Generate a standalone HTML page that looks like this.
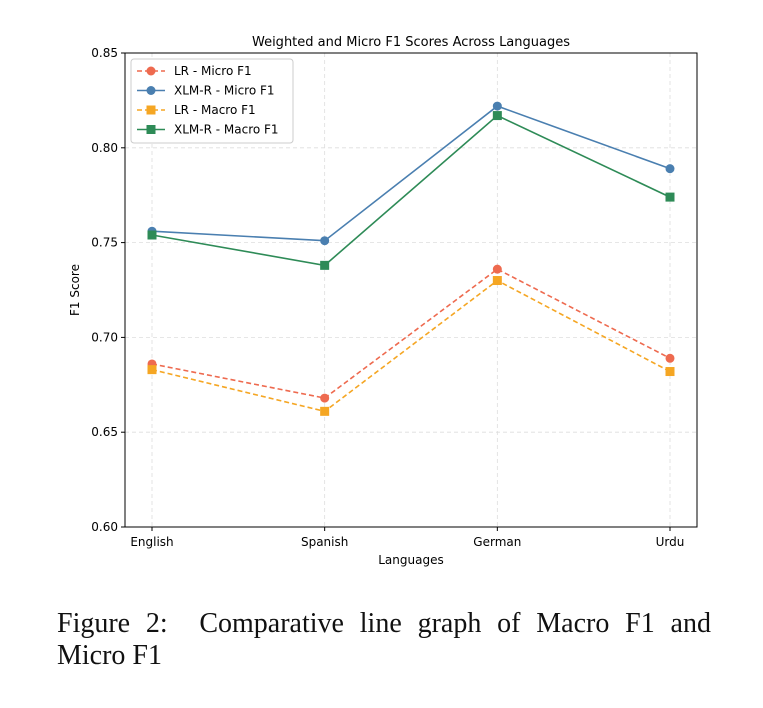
<!DOCTYPE html>
<html><head><meta charset="utf-8"><style>
body{margin:0;background:#fff;width:763px;height:708px;overflow:hidden;position:relative}
svg text{font-family:"DejaVu Sans","Liberation Sans",sans-serif}
.cap{position:absolute;left:57px;top:608px;width:654px;font-family:"Liberation Serif",serif;font-size:28px;line-height:32px;color:#111}
.l1{text-align:justify;text-align-last:justify}
</style></head><body>
<svg id="chart" width="763" height="600" style="position:absolute;left:0;top:0"></svg>
<div class="cap"><div class="l1">Figure 2:&nbsp; Comparative line graph of Macro F1 and</div><div>Micro F1</div></div>
<script>
const categories=["English","Spanish","German","Urdu"];
const lrMicro=[0.686,0.668,0.736,0.689];
const xlmMicro=[0.756,0.751,0.822,0.789];
const lrMacro=[0.683,0.661,0.730,0.682];
const xlmMacro=[0.754,0.738,0.817,0.774];
const yTicks=[0.60,0.65,0.70,0.75,0.80,0.85];
const NS="http://www.w3.org/2000/svg";
const svg=document.getElementById('chart');
const L=125,R=697,T=53,B=527;
const x=i=>152+i*(670-152)/(categories.length-1);
const y=v=>B-(v-0.60)/(0.25)*(B-T);
function el(t,a,p){const e=document.createElementNS(NS,t);for(const k in a)e.setAttribute(k,a[k]);(p||svg).appendChild(e);return e;}
yTicks.forEach(v=>{
 const g=el('line',{x1:L,x2:R,y1:y(v),y2:y(v),stroke:'#ddd','stroke-dasharray':'4,3','stroke-width':0.8});
 
 
 el('line',{x1:L-4,x2:L,y1:y(v),y2:y(v),stroke:'#000'});
 const t=el('text',{x:L-7,y:y(v)+4,'text-anchor':'end','font-size':12});t.textContent=v.toFixed(2);
 
 
});
categories.forEach((c,i)=>{
 const g=el('line',{x1:x(i),x2:x(i),y1:T,y2:B,stroke:'#ddd','stroke-dasharray':'4,3','stroke-width':0.8});
 
 
 el('line',{x1:x(i),x2:x(i),y1:B,y2:B+4,stroke:'#000'});
 const t=el('text',{x:x(i),y:B+19,'text-anchor':'middle','font-size':12});t.textContent=c;
 
 
});
const fr=el('rect',{x:L,y:T,width:R-L,height:B-T,fill:'none',stroke:'#000','stroke-width':1});


const series=[
 {d:lrMicro,c:'#ee6a4f',dash:'5,3',m:'o',n:'LR - Micro F1'},
 {d:xlmMicro,c:'#4a7fb0',dash:'',m:'o',n:'XLM-R - Micro F1'},
 {d:lrMacro,c:'#f5a623',dash:'5,3',m:'s',n:'LR - Macro F1'},
 {d:xlmMacro,c:'#2e8b57',dash:'',m:'s',n:'XLM-R - Macro F1'}];
function marker(m,cx,cy,c){return m=='o'?el('circle',{cx:cx,cy:cy,r:4.5,fill:c}):el('rect',{x:cx-4.5,y:cy-4.5,width:9,height:9,fill:c});}
series.forEach((s,si)=>{
 const p=el('polyline',{points:s.d.map((v,i)=>x(i)+','+y(v)).join(' '),fill:'none',stroke:s.c,'stroke-width':1.6,'stroke-dasharray':s.dash});
 
 
 s.d.forEach((v,i)=>{const mk=marker(s.m,x(i),y(v),s.c);
  
  });
});
const lg=el('rect',{x:131,y:59,width:162,height:84,fill:'#fff',stroke:'#ccc',rx:3});


series.forEach((s,i)=>{
 const yy=71+i*19.5;
 el('line',{x1:137,x2:165,y1:yy,y2:yy,stroke:s.c,'stroke-width':1.6,'stroke-dasharray':s.dash});
 marker(s.m,151,yy,s.c);
 const t=el('text',{x:174,y:yy+4,'font-size':12});t.textContent=s.n;
 
 
});
const ti=el('text',{x:(L+R)/2,y:46,'text-anchor':'middle','font-size':13});ti.textContent='Weighted and Micro F1 Scores Across Languages';


const xt=el('text',{x:(L+R)/2,y:564,'text-anchor':'middle','font-size':12});xt.textContent='Languages';


const yt=el('text',{x:0,y:0,'text-anchor':'middle','font-size':12,transform:'translate(79,290) rotate(-90)'});yt.textContent='F1 Score';


</script>
</body></html>
